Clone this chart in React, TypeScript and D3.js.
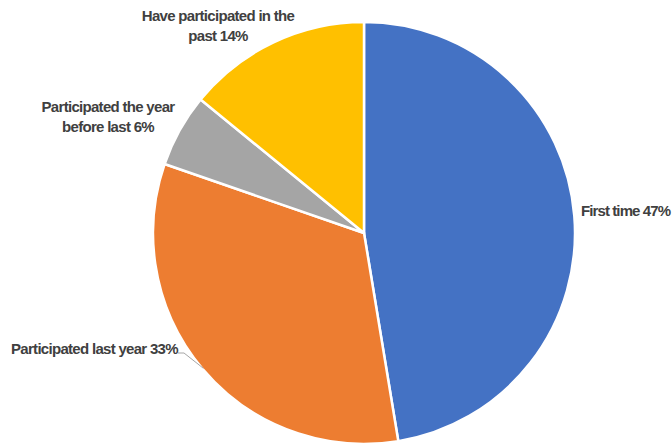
import * as d3 from "d3";

// slice data, clockwise from 12 o'clock
const categories = ["First time", "Participated last year", "Participated the year before last", "Have participated in the past"];
const shares = [47.4, 32.9, 5.6, 14.1];
const pctLabels = ["47%", "33%", "6%", "14%"];
const colors = ["#4472C4", "#ED7D31", "#A5A5A5", "#FFC000"];

// label lines as they wrap in the chart
const labelLines = [
    ["First time 47%"],
    ["Participated last year 33%"],
    ["Participated the year", "before last 6%"],
    ["Have participated in the", "past 14%"],
];

const W = 672;
const H = 443;
const cx = 364;
const cy = 233;
const radius = 211;

// baseline of first line of each label
const labelLayout = [
    { x: 581, y: 216, anchor: "start" },
    { x: 11, y: 354, anchor: "start" },
    { x: 108, y: 112, anchor: "middle" },
    { x: 218, y: 21, anchor: "middle" },
];

export default function App() {
    const data = categories.map((c, i) => ({ name: c, value: shares[i], pct: pctLabels[i] }));
    const pie = d3.pie<any>().sort(null).value((d: any) => d.value).startAngle(0).endAngle(2 * Math.PI);
    const arcs = pie(data);
    const arcGen = d3.arc<any>().innerRadius(0).outerRadius(radius);

    // leader line for the orange slice, ends at the slice's mid angle on the rim
    const orange = arcs[1];
    const mid = (orange.startAngle + orange.endAngle) / 2;
    const edge = d3.arc<any>().innerRadius(radius - 1).outerRadius(radius - 1).centroid({ startAngle: mid, endAngle: mid });

    return (
        <div style={{ position: "fixed", left: 0, top: 0, width: W, height: H, overflow: "hidden" }}>
            <svg width={W} height={H} style={{ display: "block" }}>
                <rect width={W} height={H} fill="#ffffff" />
                <g transform={`translate(${cx}, ${cy})`}>
                    {arcs.map((a, i) => (
                        <path key={i} d={arcGen(a) || ""} fill={colors[i]} stroke="#ffffff" strokeWidth={2.5} strokeLinejoin="round" />
                    ))}
                    <polyline
                        points={`${178 - cx},${353 - cy} ${184 - cx},${353 - cy} ${edge[0]},${edge[1]}`}
                        fill="none"
                        stroke="#A6A6A6"
                        strokeWidth={1}
                    />
                </g>
                {labelLines.map((lines, i) => {
                    const l = labelLayout[i];
                    const lh = 20;
                    return (
                        <text
                            key={i}
                            x={l.x}
                            y={l.y}
                            textAnchor={l.anchor as any}
                            fontFamily="'Liberation Sans', Arial, sans-serif"
                            fontWeight="bold"
                            fontSize={15}
                            letterSpacing={i === 0 ? -0.9 : -0.7}
                            fill="#404040"
                        >
                            {lines.map((line, j) => (
                                <tspan key={j} x={l.x} dy={j === 0 ? 0 : lh}>
                                    {line}
                                </tspan>
                            ))}
                        </text>
                    );
                })}
            </svg>
        </div>
    );
}
